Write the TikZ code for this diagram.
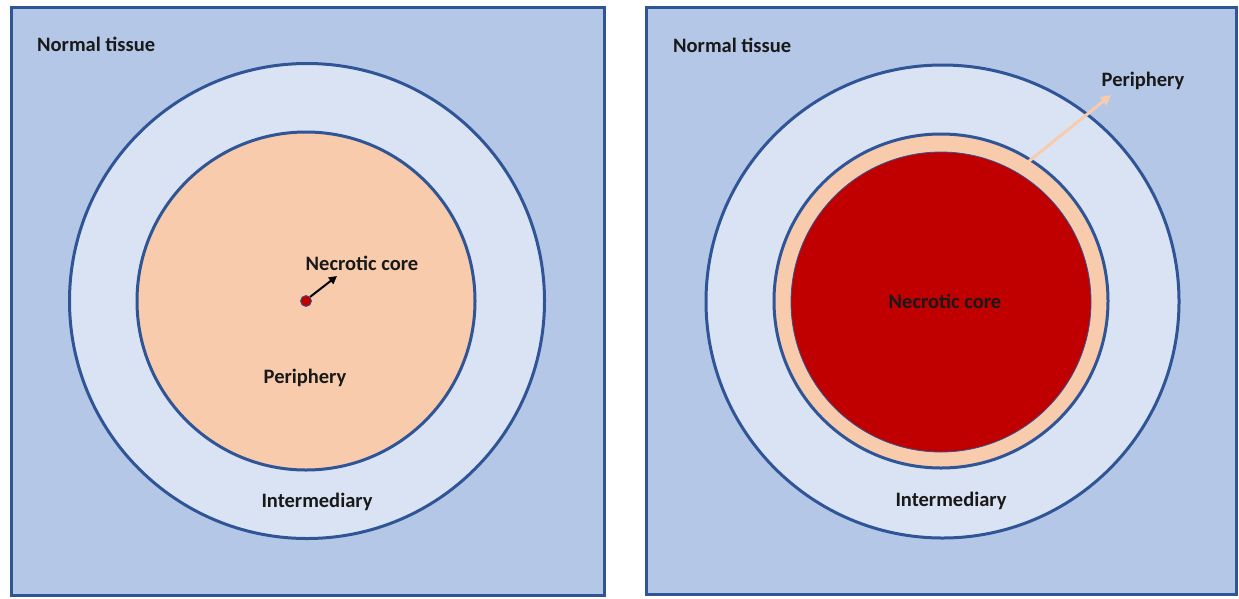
\documentclass[tikz,border=0pt]{standalone}
\usepackage{fontspec}
\setmainfont{Carlito}
\usetikzlibrary{arrows.meta}
\definecolor{sqfill}{HTML}{B4C7E7}
\definecolor{ringfill}{HTML}{DAE3F3}
\definecolor{peach}{HTML}{F8CBAD}
\definecolor{necred}{HTML}{C00000}
\definecolor{edge}{HTML}{2F5597}
\tikzset{
  panel/.style={draw=edge, fill=sqfill, line width=3pt},
  zone/.style={draw=edge, line width=3pt},
  lbl/.style={font=\fontsize{20.5}{24}\selectfont\bfseries, text=black!90, inner sep=0pt},
}
\begin{document}
\begin{tikzpicture}[x=1pt,y=-1pt]
\useasboundingbox (0,0) rectangle (1239,598);
% left panel
\draw[panel] (11.5,7.5) rectangle (604.5,595.5);
\draw[zone, fill=ringfill] (307,301) circle (237.5);
\draw[zone, fill=peach] (306,301) circle (169);
\node[circle, draw=edge, fill=necred, line width=0.8pt, minimum size=11pt, inner sep=0pt] (dot) at (306,301) {};
\coordinate (tipL) at (337,276);
\draw[-{Triangle[length=8pt,width=8pt]}, line width=2pt, black] (dot.45) -- (tipL);
\node[lbl] (ncL) at (362,263) {Necrotic core};
\node[lbl] (peL) at (305,378) {Periphery};
\node[lbl] (inL) at (317,502) {Intermediary};
\node[lbl, anchor=west] (ntL) at (37,44) {Normal tissue};
% right panel
\draw[panel] (646.5,7.5) rectangle (1236.5,594.5);
\draw[zone, fill=ringfill] (942.5,301.5) circle (236.5);
\draw[zone, fill=peach] (941,301) circle (167);
\node[circle, draw=edge, fill=necred, line width=0.8pt, minimum size=300pt, inner sep=0pt] (core) at (941,302) {};
\node[lbl] (ncR) at (945,301) {Necrotic core};
\node[lbl] (peR) at (1143,81) {Periphery};
\coordinate (baseR) at (1028,162);
\draw[-{Triangle[length=10pt,width=10pt]}, line width=3pt, peach] (baseR) -- (1111,95);
\node[lbl] (inR) at (951,501) {Intermediary};
\node[lbl, anchor=west] (ntR) at (673,45) {Normal tissue};
\end{tikzpicture}
\end{document}
